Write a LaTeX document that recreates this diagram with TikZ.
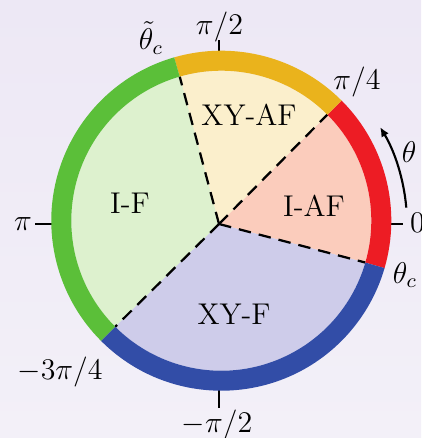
\documentclass[tikz,border=0pt]{standalone}
\usetikzlibrary{calc,arrows.meta}
\definecolor{bgtop}{HTML}{EDE8F5}
\definecolor{bgbot}{HTML}{F3F0F8}
\definecolor{ringred}{HTML}{ED1C24}
\definecolor{ringyel}{HTML}{EAB31C}
\definecolor{ringgrn}{HTML}{5BBF39}
\definecolor{ringblu}{HTML}{324DA7}
\definecolor{filliaf}{HTML}{FBCCBC}
\definecolor{fillxyaf}{HTML}{FBEFCC}
\definecolor{fillif}{HTML}{DDF1CE}
\definecolor{fillxyf}{HTML}{CECCEA}
\begin{document}
\begin{tikzpicture}[x=0.4pt,y=0.4pt,
  lab/.style={font=\fontsize{12}{14}\selectfont, inner sep=0pt},
  divider/.style={line width=0.9pt, dash pattern=on 5pt off 3.2pt},
  tickline/.style={line width=0.8pt},
  arrowline/.style={line width=0.85pt, -{Latex[length=3.8pt,width=3.4pt]}}]
\useasboundingbox (0,0) rectangle (421,-438);
\shade[top color=bgtop, bottom color=bgbot] (0,0) rectangle (421,-438);
\coordinate (C) at (219,-224);
\coordinate (R) at (221.3,-220.7);
\def\ra{-16.2}
\def\rb{45}
\def\rc{106.1}
\def\rd{-135}
\def\rin{150}
\def\rout{170}
% inner points
\coordinate (ia) at ($(R)+(\ra:\rin)$);
\coordinate (ib) at ($(R)+(\rb:\rin)$);
\coordinate (ic) at ($(R)+(\rc:\rin)$);
\coordinate (id) at ($(R)+(\rd:\rin)$);
\coordinate (oa) at ($(R)+(\ra:\rout)$);
\coordinate (ob) at ($(R)+(\rb:\rout)$);
\coordinate (oc) at ($(R)+(\rc:\rout)$);
\coordinate (od) at ($(R)+(\rd:\rout)$);
% sectors
\fill[filliaf] (C) -- (ia) arc[start angle=\ra, end angle=\rb, radius=\rin] -- cycle;
\fill[fillxyaf] (C) -- (ib) arc[start angle=\rb, end angle=\rc, radius=\rin] -- cycle;
\fill[fillif] (C) -- (ic) arc[start angle=\rc, end angle=225, radius=\rin] -- cycle;
\fill[fillxyf] (C) -- (id) arc[start angle=\rd, end angle=\ra, radius=\rin] -- cycle;
% dividers
\draw[divider] (C) -- (ia);
\draw[divider] (C) -- (ib);
\draw[divider] (C) -- (ic);
\draw[divider] (C) -- (id);
% ticks
\foreach \t/\n in {0/e,90/n,180/w,270/s}{
  \coordinate (t1\n) at ($(C)+(\t:160)$);
  \coordinate (t2\n) at ($(C)+(\t:184)$);
  \draw[tickline] (t1\n) -- (t2\n);
}
% ring
\fill[ringred] (oa) arc[start angle=\ra, end angle=\rb, radius=\rout] -- (ib) arc[start angle=\rb, end angle=\ra, radius=\rin] -- cycle;
\fill[ringyel] (ob) arc[start angle=\rb, end angle=\rc, radius=\rout] -- (ic) arc[start angle=\rc, end angle=\rb, radius=\rin] -- cycle;
\fill[ringgrn] (oc) arc[start angle=\rc, end angle=225, radius=\rout] -- (id) arc[start angle=225, end angle=\rc, radius=\rin] -- cycle;
\fill[ringblu] (od) arc[start angle=\rd, end angle=\ra, radius=\rout] -- (ia) arc[start angle=\ra, end angle=\rd, radius=\rin] -- cycle;
% arrow
\coordinate (arrs) at ($(C)+(5:188)$);
\draw[arrowline] (arrs) arc[start angle=5, end angle=31, radius=188];
% region labels
\node[lab] (xyaf) at (249,-114.5) {XY-AF};
\node[lab] (iaf) at (314,-206) {I-AF};
\node[lab] (if) at (130,-203) {I-F};
\node[lab] (xyf) at (234,-314.5) {XY-F};
% angle labels
\node[lab] (lpi) at (23,-224) {$\pi$};
\node[lab] (lzero) at (417.5,-223) {$0$};
\node[lab] (lpihalf) at (219.5,-26.7) {$\pi/2$};
\node[lab] (lpiq) at (357,-82) {$\pi/4$};
\node[lab] (lth) at (409,-152) {$\theta$};
\node[lab] (lthc) at (405,-275) {$\theta_c$};
\node[lab] (lthtc) at (151,-38) {$\tilde\theta_c$};
\node[lab] (lm3) at (60,-372) {$-3\pi/4$};
\node[lab] (lmpih) at (217,-424.5) {$-\pi/2$};
\end{tikzpicture}
\end{document}
